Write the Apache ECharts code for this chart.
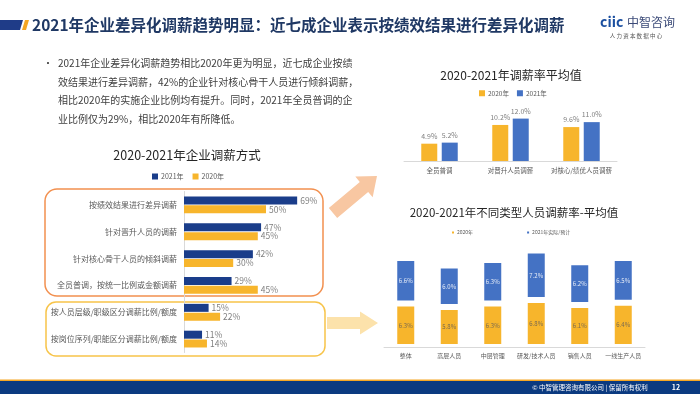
<!DOCTYPE html>
<html><head><meta charset="utf-8">
<script src="https://cdn.jsdelivr.net/npm/echarts@6/dist/echarts.min.js"></script>
<style>html,body{margin:0;padding:0;background:#fff}#c{width:700px;height:394px}</style>
</head><body><div id="c"></div>
<script>
// ---- data ----
const leftCats = ['按绩效结果进行差异调薪','针对晋升人员的调薪','针对核心骨干人员的倾斜调薪','全员普调，按统一比例或金额调薪','按人员层级/职级区分调薪比例/额度','按岗位序列/职能区分调薪比例/额度'];
const left2021 = [69, 47, 42, 29, 15, 11];
const left2020 = [50, 45, 30, 45, 22, 14];

const avgCats = ['全员普调','对晋升人员调薪','对核心/绩优人员调薪'];
const avg2020 = [4.9, 10.2, 9.6];
const avg2021 = [5.2, 12.0, 11.0];

const typeCats = ['整体','高层人员','中层管理','研发/技术人员','销售人员','一线生产人员'];
const type2020 = [6.3, 5.8, 6.3, 6.8, 6.1, 6.4];
const type2021 = [6.6, 6.0, 6.3, 7.2, 6.2, 6.5];

const mainTitle = '2021年企业差异化调薪趋势明显：近七成企业表示按绩效结果进行差异化调薪';
const bulletLines = [
  '2021年企业差异化调薪趋势相比2020年更为明显，近七成企业按绩',
  '效结果进行差异调薪，42%的企业针对核心骨干人员进行倾斜调薪，',
  '相比2020年的实施企业比例均有提升。同时，2021年全员普调的企',
  '业比例仅为29%，相比2020年有所降低。'
];
const leftTitle = '2020-2021年企业调薪方式';
const avgTitle = '2020-2021年调薪率平均值';
const typeTitle = '2020-2021年不同类型人员调薪率-平均值';
const footerText = '© 中智管理咨询有限公司 | 保留所有权利';
const pageNo = '12';

// ---- style ----
const FF = '"Noto Sans CJK SC","Noto Sans",sans-serif';
const NAVY = '#1a3d8a', GOLD = '#f7b52c', BLUE = '#4472c4';
const GRAY = '#595959';

function arrow(x0,y0,x1,y1,bw,hw,hl){
  const dx=x1-x0, dy=y1-y0, L=Math.hypot(dx,dy);
  const ux=dx/L, uy=dy/L, px=-uy, py=ux;
  const pts=[[0,-bw],[L-hl,-bw],[L-hl,-hw],[L,0],[L-hl,hw],[L-hl,bw],[0,bw]];
  return pts.map(([a,b])=>[x0+ux*a+px*b, y0+uy*a+py*b]);
}
const strip = n => n.replace(/#.*$/, '');
const pct1 = p => p.value.toFixed(1) + '%';

const chart = echarts.init(document.getElementById('c'));
chart.setOption({
  animation: false,
  textStyle: { fontFamily: FF },
  grid: [
    { left: 184, top: 191.5, width: 164, height: 161 },
    { left: 404, top: 108, width: 213, height: 53 },
    { left: 384, top: 243.5, width: 261, height: 103.5 }
  ],
  legend: [
    { data: ['2021年#a','2020年#a'], left: 152, top: 173, padding: 0, itemWidth: 6, itemHeight: 6, itemGap: 9, icon: 'rect',
      formatter: strip, textStyle: { fontSize: 7, color: GRAY, padding: [0,0,0,-2] } },
    { data: ['2020年#b','2021年#b'], left: 479, top: 90, padding: 0, itemWidth: 6, itemHeight: 6, itemGap: 8, icon: 'rect',
      formatter: strip, textStyle: { fontSize: 6.5, color: GRAY, padding: [0,0,0,-2] } },
    { data: ['2020年#c','2021年实际/预计'], left: 450, top: 229.5, padding: 0, itemWidth: 4, itemHeight: 4, itemGap: 52, icon: 'rect',
      formatter: strip, textStyle: { fontSize: 5, color: GRAY, padding: [0,0,0,-3] } }
  ],
  xAxis: [
    { gridIndex: 0, type: 'value', min: 0, max: 100, show: false },
    { gridIndex: 1, type: 'category', data: avgCats,
      axisLine: { lineStyle: { color: '#d9d9d9' } }, axisTick: { show: false },
      axisLabel: { interval: 0, fontSize: 6.5, color: GRAY, margin: 6 } },
    { gridIndex: 2, type: 'category', data: typeCats, z: 5,
      axisLine: { lineStyle: { color: '#d9d9d9' } }, axisTick: { show: false },
      axisLabel: { interval: 0, fontSize: 6, color: GRAY, margin: 6 } }
  ],
  yAxis: [
    { gridIndex: 0, type: 'category', data: leftCats, inverse: true,
      axisLine: { lineStyle: { color: '#d9d9d9' } }, axisTick: { show: false },
      axisLabel: { interval: 0, fontSize: 8, color: GRAY, margin: 7 } },
    { gridIndex: 1, type: 'value', min: 0, max: 15, show: false },
    { gridIndex: 2, type: 'value', min: 0, max: 15, show: false }
  ],
  series: [
    { name: '2021年#a', type: 'bar', xAxisIndex: 0, yAxisIndex: 0, data: left2021, barWidth: 8, barGap: '10%',
      itemStyle: { color: NAVY },
      label: { show: true, position: 'right', distance: 3, formatter: '{c}%', fontSize: 8.5, color: '#7f7f7f' } },
    { name: '2020年#a', type: 'bar', xAxisIndex: 0, yAxisIndex: 0, data: left2020, barWidth: 8,
      itemStyle: { color: GOLD },
      label: { show: true, position: 'right', distance: 3, formatter: '{c}%', fontSize: 8.5, color: '#7f7f7f' } },
    { name: '2020年#b', type: 'bar', xAxisIndex: 1, yAxisIndex: 1, data: avg2020, barWidth: 16, barGap: '28%',
      itemStyle: { color: GOLD },
      label: { show: true, position: 'top', distance: 4, formatter: pct1, fontSize: 7, color: '#7f7f7f' } },
    { name: '2021年#b', type: 'bar', xAxisIndex: 1, yAxisIndex: 1, data: avg2021, barWidth: 16,
      itemStyle: { color: BLUE },
      label: { show: true, position: 'top', distance: 4, formatter: pct1, fontSize: 7, color: '#7f7f7f' } },
    { name: '2020年#c', type: 'bar', xAxisIndex: 2, yAxisIndex: 2, data: type2020, barWidth: 23, stack: 't',
      itemStyle: { color: GOLD, borderColor: '#fff', borderWidth: 3 },
      label: { show: true, position: 'inside', formatter: pct1, fontSize: 6, color: '#7a6a50' } },
    { name: '2021年实际/预计', type: 'bar', xAxisIndex: 2, yAxisIndex: 2, data: type2021, barWidth: 23, stack: 't',
      itemStyle: { color: BLUE, borderColor: '#fff', borderWidth: 3 },
      label: { show: true, position: 'inside', formatter: pct1, fontSize: 6, color: '#e6ecf7' } }
  ],
  graphic: [
    // header
    { type: 'polygon', shape: { points: [[0,20],[23,20],[20,30],[0,30]] }, style: { fill: '#1f3c88' } },
    { type: 'polygon', shape: { points: [[25,20],[29,20],[26,30],[22,30]] }, style: { fill: '#f5a623' } },
    { type: 'text', x: 32, y: 25, style: { text: mainTitle, font: 'bold 15.5px ' + FF, fill: '#1f3864', textVerticalAlign: 'middle' } },
    // logo
    { type: 'text', x: 600, y: 22, style: { text: 'ciic', font: 'bold 14px ' + FF, fill: '#1b4fa0', textVerticalAlign: 'middle' } },
    { type: 'text', x: 627, y: 22, style: { text: '中智咨询', font: '12px ' + FF, fill: '#3b4a78', textVerticalAlign: 'middle' } },
    { type: 'text', x: 636, y: 36, style: { text: '人 力 资 本 数 据 中 心', font: '5.5px ' + FF, fill: '#555', textAlign: 'center', textVerticalAlign: 'middle' } },
    // bullet text
    { type: 'text', x: 43, y: 63, style: { text: '•', font: '10px ' + FF, fill: '#404040', textVerticalAlign: 'middle' } },
    { type: 'text', x: 58, y: 54, style: { text: bulletLines.join('\n'), font: '10px ' + FF, lineHeight: 18.5, fill: '#404040' } },
    // chart titles
    { type: 'text', x: 187, y: 155, style: { text: leftTitle, font: '12.5px ' + FF, fill: '#262626', textAlign: 'center', textVerticalAlign: 'middle' } },
    { type: 'text', x: 511, y: 75, style: { text: avgTitle, font: '12px ' + FF, fill: '#262626', textAlign: 'center', textVerticalAlign: 'middle' } },
    { type: 'text', x: 514, y: 213, style: { text: typeTitle, font: '11.5px ' + FF, fill: '#262626', textAlign: 'center', textVerticalAlign: 'middle' } },
    // rounded frames
    { type: 'rect', shape: { x: 45, y: 189, width: 278, height: 107, r: 12 }, style: { fill: 'none', stroke: '#f2904f', lineWidth: 1.5 } },
    { type: 'rect', shape: { x: 46, y: 302, width: 279, height: 54, r: 10 }, style: { fill: 'none', stroke: '#f7c44a', lineWidth: 1.5 } },
    // arrows
    { type: 'polygon', shape: { points: arrow(333,213,377,176,6.5,13.5,17) }, style: { fill: '#f8c7a2' } },
    { type: 'polygon', shape: { points: arrow(327,323,378,323,6,11.5,18) }, style: { fill: '#fce2ab' } },
    // footer
    { type: 'rect', shape: { x: 0, y: 379.5, width: 700, height: 1.5 }, style: { fill: '#f5a623' } },
    { type: 'rect', shape: { x: 0, y: 381, width: 700, height: 13 }, style: { fill: '#0b3a80' } },
    { type: 'text', x: 590, y: 387.5, style: { text: footerText, font: '6.5px ' + FF, fill: '#fff', textAlign: 'center', textVerticalAlign: 'middle' } },
    { type: 'text', x: 676, y: 387.5, style: { text: pageNo, font: 'bold 7px ' + FF, fill: '#fff', textAlign: 'center', textVerticalAlign: 'middle' } }
  ]
});
</script></body></html>
